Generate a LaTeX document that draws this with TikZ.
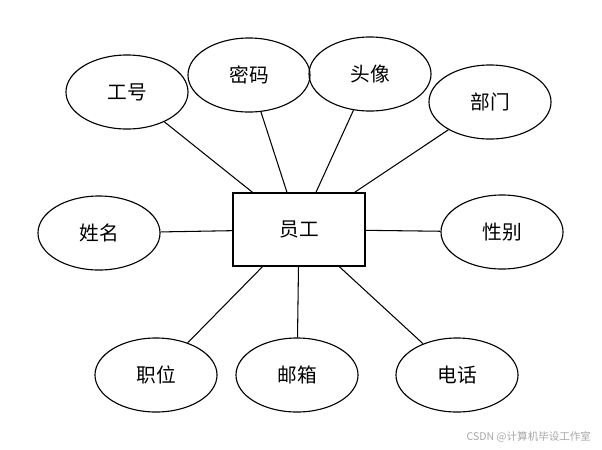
\documentclass[tikz,border=0pt]{standalone}
\usepackage{fontspec}
\setmainfont{Liberation Serif}
\newfontfamily\cjk{Noto Sans CJK SC}
\usetikzlibrary{shapes.geometric}
\tikzset{
  attr/.style={draw,ellipse,line width=0.8pt,minimum width=3.05cm,minimum height=1.85cm,inner sep=0pt,font=\cjk\fontsize{14}{16}\selectfont},
  entity/.style={draw,rectangle,line width=1.1pt,minimum width=3.3cm,minimum height=1.825cm,font=\cjk\fontsize{14}{16}\selectfont},
  link/.style={line width=0.75pt}
}

\begin{document}
\begin{tikzpicture}[x=0.025cm,y=-0.025cm]
  \useasboundingbox (0,0) rectangle (602,449);
  \node[entity] (yg) at (299,229.5) {员工};
  \node[attr] (gh) at (127,92) {工号};
  \node[attr] (mm) at (249,75) {密码};
  \node[attr] (tx) at (370,74) {头像};
  \node[attr] (bm) at (490,102) {部门};
  \node[attr] (xm) at (99,233) {姓名};
  \node[attr] (xb) at (502,232) {性别};
  \node[attr] (zw) at (156,375) {职位};
  \node[attr] (yx) at (297,375) {邮箱};
  \node[attr] (dh) at (457,375) {电话};
  \foreach \a in {gh,mm,tx,bm,xm,xb,zw,yx,dh}
    \draw[link] (\a) -- (yg);
  \node[text=black!35,font=\cjk\fontsize{7.5}{9}\selectfont,anchor=east] (wm) at (596,437) {CSDN @计算机毕设工作室};
\end{tikzpicture}
\end{document}
